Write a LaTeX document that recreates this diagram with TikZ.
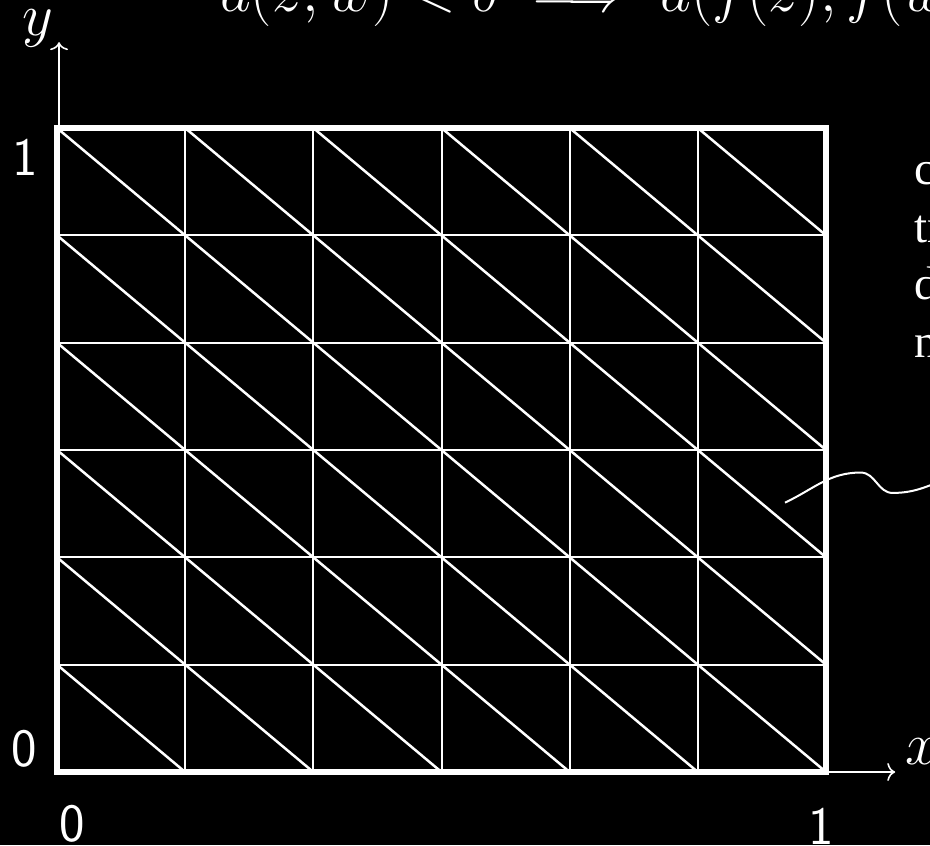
\documentclass[tikz,border=0pt]{standalone}
\usepackage{fix-cm}
\usepackage{amsmath}
\usepackage{fontspec}
\newfontfamily\notefont{Liberation Serif}
\usepackage{tikz}
\usetikzlibrary{arrows.meta}

\begin{document}
\begin{tikzpicture}[x=64.085pt,y=53.665pt,
  frame/.style={white,line width=2.75pt},
  gridline/.style={white,line width=1pt},
  diag/.style={white,line width=1.25pt},
  axis/.style={white,line width=0.8pt,-{To[length=4pt,width=9pt]}},
  lbl/.style={white,inner sep=0pt,font=\fontsize{27}{32}\selectfont\sffamily},
  mathlbl/.style={white,inner sep=0pt,font=\fontsize{30}{36}\selectfont}]
\path[use as bounding box,fill=black] (-0.4447,-0.6801) rectangle (6.8113,7.1928);
% axes
\coordinate (xtip) at (6.54,0);
\coordinate (ytip) at (0.016,6.80);
\draw[axis] (0,0) -- (xtip);
\draw[axis] (0.016,0) -- (ytip);
\node[mathlbl,anchor=west] (xlab) at (6.62,0.186) {$x$};
\node[mathlbl] (ylab) at (-0.148,6.93) {$y$};
% mesh
\foreach \i in {1,...,5} {
   \draw[gridline] (\i,0) -- (\i,6);
   \draw[gridline] (0,\i) -- (6,\i);
}
\foreach \i in {0,...,5} {
   \foreach \j in {0,...,5} {
      \draw[diag] (\i,\j+1) -- (\i+1,\j);
   }
}
\draw[frame] (0,0) rectangle (6,6);
% tick labels
\node[lbl] (yone) at (-0.250,5.730) {1};
\node[lbl] (yzero) at (-0.257,0.214) {0};
\node[lbl] (xzero) at (0.117,-0.484) {0};
\node[lbl] (xone) at (5.961,-0.503) {1};
% title and side note
\node[mathlbl,anchor=base west] (title) at (1.272,7.081)
   {$d(z,w)<\delta \implies d(f(z),f(w))<\varepsilon$};
\node[white,inner sep=0pt,anchor=base west,align=left,
   font=\notefont\fontsize{23.5}{28.75}\selectfont] (note) at (6.686,3.862) {c\\tr\\d\\n};
\coordinate (wavestart) at (5.68,2.51);
\coordinate (waveend) at (7.0,2.76);
\draw[white,line width=1pt] (wavestart) to[out=25,in=180] (6.27,2.79)
   to[out=0,in=180] (6.52,2.60) to[out=0,in=200] (waveend);
\end{tikzpicture}
\end{document}
